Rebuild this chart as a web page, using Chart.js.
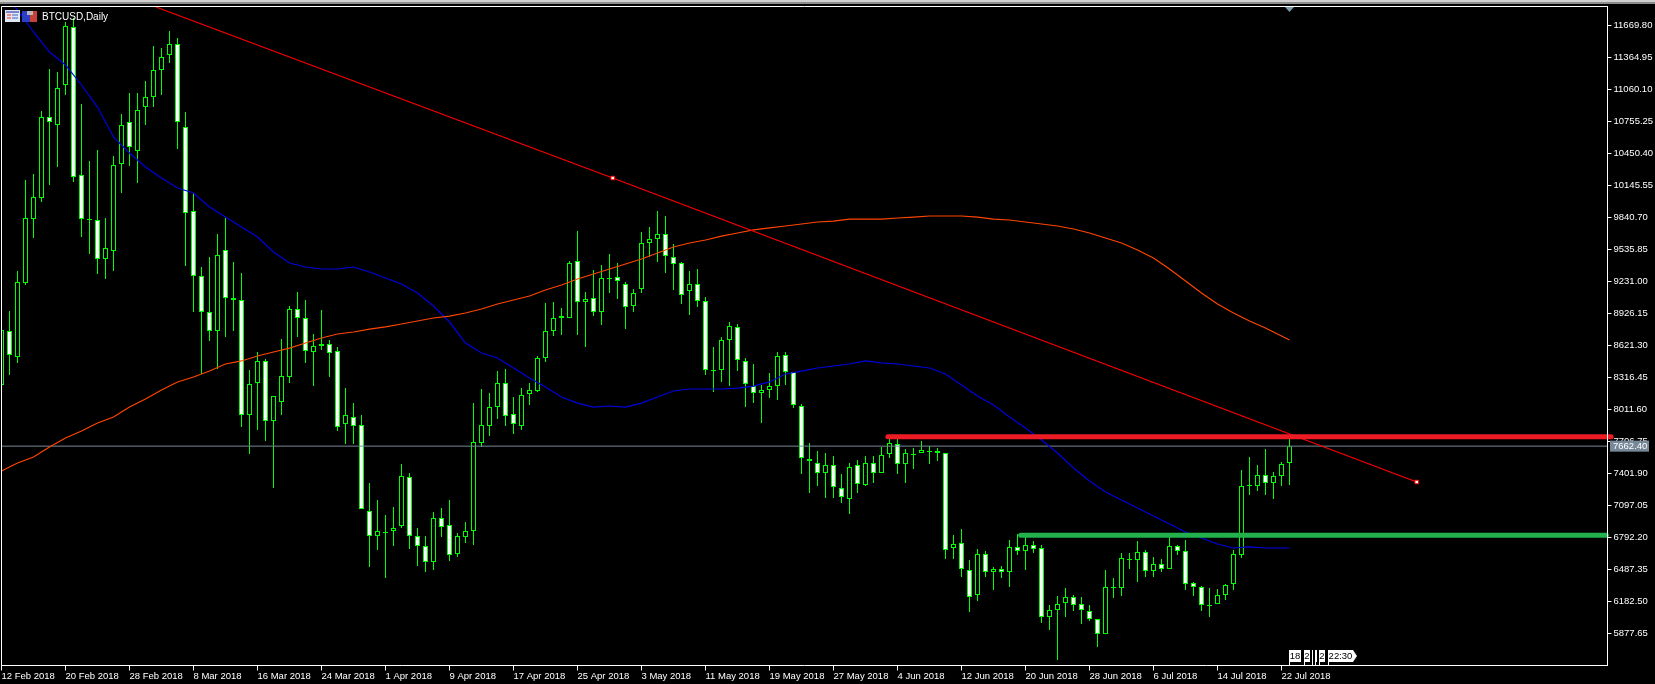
<!DOCTYPE html>
<html>
<head>
<meta charset="utf-8">
<title>BTCUSD,Daily</title>
<style>html,body{margin:0;padding:0;background:#000;overflow:hidden}canvas{display:block}</style>
<script src="https://cdn.jsdelivr.net/npm/chart.js@4"></script>
</head>
<body>
<canvas id="c" width="1655" height="684" style="width:1655px;height:684px"></canvas>
<script>
const symbolTitle = "BTCUSD,Daily";
const dateLabels = ["12 Feb 2018","20 Feb 2018","28 Feb 2018","8 Mar 2018","16 Mar 2018","24 Mar 2018","1 Apr 2018","9 Apr 2018","17 Apr 2018","25 Apr 2018","3 May 2018","11 May 2018","19 May 2018","27 May 2018","4 Jun 2018","12 Jun 2018","20 Jun 2018","28 Jun 2018","6 Jul 2018","14 Jul 2018","22 Jul 2018"];
const priceTicks = [11669.80,11364.95,11060.10,10755.25,10450.40,10145.55,9840.70,9535.85,9231.00,8926.15,8621.30,8316.45,8011.60,7706.75,7401.90,7097.05,6792.20,6487.35,6182.50,5877.65];

const opens = [8245,8759,8512,9217,9826,10026,10798,10722,11103,11655,
10245,9817,9817,9445,9522,10350,10750,10474,10893,10989,
11246,11389,11494,10703,9903,9283,8940,8759,9531,9074,
9055,7959,8264,8474,7902,8083,8321,8969,8883,8559,
8636,8636,8569,7873,7940,7864,7045,6806,6835,6854,
6902,7369,6806,6711,6559,6978,6911,6635,6797,6854,
7692,7854,8035,8264,7969,7854,8159,8188,8502,8759,
8883,8883,9426,9036,9074,8940,9255,9274,9207,8998,
9160,9598,9636,9683,9464,9407,9140,9207,9045,8378,
8388,8674,8798,8474,8235,8169,8197,8235,8531,8369,
8045,7540,7502,7407,7483,7264,7159,7483,7292,7502,
7407,7588,7683,7492,7578,7597,7607,7616,7597,6692,
6740,6483,6244,6635,6463,6492,6463,6702,6664,6721,
6692,6035,6102,6168,6225,6159,6092,6016,5873,6311,
6311,6578,6578,6654,6473,6540,6492,6711,6664,6359,
6321,6140,6159,6244,6349,6625,7283,7283,7387,7311,
7378,7502];
const highs = [8769,8950,9331,10198,10255,10855,11255,11227,11703,11741,
10922,10379,10484,9836,10427,10827,11027,11027,11141,11474,
11455,11617,11551,10846,10074,9369,9464,9683,9836,9417,
9312,8388,8559,8493,8140,8683,8998,9131,9055,8731,
8960,8674,8607,8216,8074,7959,7311,7149,7006,7083,
7492,7407,6883,6806,7035,7073,7149,6835,6940,8074,
8207,8169,8378,8397,8131,8216,8264,8521,9026,9036,
8978,9426,9712,9131,9341,9388,9493,9407,9226,9160,
9703,9750,9903,9855,9588,9417,9331,9350,9083,8607,
8702,8845,8826,8502,8445,8245,8359,8559,8559,8369,
8064,7692,7616,7597,7568,7397,7502,7530,7568,7568,
7654,7759,7731,7635,7645,7711,7664,7645,7597,6816,
6873,6578,6683,6664,6511,6521,6768,6825,6816,6759,
6721,6149,6235,6311,6244,6225,6149,6016,6483,6406,
6645,6645,6759,6673,6606,6587,6797,6721,6768,6368,
6330,6311,6302,6349,6673,7435,7559,7483,7635,7416,
7511,7759];
const lows = [8245,8340,8455,9198,9645,9988,10150,10322,11008,10179,
9655,9493,9302,9255,9331,10074,10331,10169,10722,10893,
11008,11313,10493,9379,8940,8350,8664,8397,8702,8759,
7845,7588,7816,7711,7264,7959,8264,8702,8455,8235,
8578,8321,7807,7683,7683,7064,6511,6673,6406,6711,
6883,6683,6521,6463,6483,6797,6568,6606,6740,6721,
7654,7759,7921,7854,7778,7816,8054,8178,8464,8712,
8721,8883,8721,8607,8902,8817,9121,9064,8778,8940,
9121,9464,9417,9312,9150,9017,8912,8988,8340,8178,
8274,8235,8378,8035,8074,7883,8121,8102,8245,8026,
7397,7216,7283,7168,7168,7121,7016,7216,7283,7311,
7407,7550,7397,7311,7445,7597,7492,7521,6587,6587,
6416,6082,6187,6416,6292,6406,6321,6625,6483,6645,
5978,5911,5625,6035,6092,5968,5997,5749,5873,6216,
6235,6492,6368,6416,6416,6463,6492,6625,6292,6235,
6092,6035,6159,6197,6292,6597,7197,7235,7197,7159,
7283,7292];
const closes = [8769,8531,9226,9836,10036,10798,10750,11074,11665,10226,
9826,9826,9445,9550,10341,10722,10512,10865,10989,11246,
11370,11494,10750,9883,9283,8940,8759,9484,9074,9055,
7959,8255,8474,7902,8140,8331,8969,8883,8569,8617,
8617,8550,7845,7959,7854,7064,6806,6854,6844,6883,
7378,6806,6711,6559,6978,6892,6625,6806,6854,7702,
7864,8035,8264,7950,7873,8150,8197,8502,8759,8883,
8902,9407,9036,9064,8940,9264,9264,9236,8988,9121,
9598,9636,9683,9474,9398,9102,9207,9045,8388,8388,
8674,8807,8483,8255,8169,8197,8235,8521,8369,8054,
7550,7521,7407,7483,7273,7178,7464,7302,7502,7407,
7578,7692,7492,7597,7588,7626,7616,7597,6673,6730,
6492,6225,6635,6463,6492,6463,6702,6664,6721,6683,
6035,6102,6159,6225,6149,6102,6016,5873,6321,6321,
6597,6587,6654,6473,6540,6492,6711,6664,6349,6321,
6149,6149,6244,6340,6635,7283,7292,7387,7311,7378,
7492,7662.4];

const maBars = [0,2,4,6,8,10,12,14,16,18,20,22,24,26,28,30,32,34,36,38,40,42,44,46,48,50,52,54,56,58,60,62,64,66,68,70,72,74,76,78,80,82,84,86,88,90,92,94,96,98,100,102,104,106,108,110,112,114,116,118,120,122,124,126,128,130,132,134,136,138,140,142,144,146,148,150,152,154,156,158,160,161];
const fastMA = [12018,11817,11608,11417,11294,11103,10893,10608,10455,10322,10217,10122,10074,9941,9845,9750,9655,9512,9407,9369,9350,9350,9369,9321,9264,9207,9121,8998,8845,8645,8550,8502,8407,8312,8226,8131,8073,8035,8045,8035,8073,8131,8188,8207,8207,8207,8216,8235,8274,8350,8378,8407,8426,8445,8474,8455,8445,8426,8407,8350,8245,8140,8054,7940,7835,7721,7597,7454,7330,7226,7149,7073,6997,6921,6845,6787,6730,6692,6702,6692,6692,6692];
const slowMA = [7426,7502,7559,7654,7740,7807,7883,7940,8035,8112,8197,8274,8321,8378,8445,8474,8521,8559,8597,8645,8693,8731,8750,8778,8798,8826,8855,8883,8902,8931,8969,9017,9055,9093,9150,9198,9255,9302,9350,9398,9445,9503,9560,9598,9626,9664,9693,9722,9741,9760,9779,9798,9807,9826,9826,9826,9836,9845,9855,9855,9855,9845,9826,9817,9798,9779,9760,9731,9693,9645,9598,9531,9455,9350,9236,9121,9017,8931,8855,8788,8712,8674];

const currentPrice = 7662.40;
const trendBars = [19.3, 76.4, 176.9];
const trendPrices = [11846, 10217, 7321];
const resistanceBars = [110.8, 201.2];
const resistancePrice = 7752.4;
const supportBars = [127.4, 200.6];
const supportPrice = 6813.1;
const timeMarks = ["18","2","","","2","22:30"];

const FONT = '9.5px "Liberation Sans"';
const X_MAX = 200.75;
const Y_MAX = 11850.81, Y_MIN = 5572.78;

const noPad = s => { s.paddingLeft = 0; s.paddingRight = 0; s.paddingTop = 0; s.paddingBottom = 0; };

const decor = {
  id: 'decor',
  afterDraw(chart) {
    const ctx = chart.ctx, a = chart.chartArea;
    ctx.save();
    ctx.fillStyle = '#d0d0d0'; ctx.fillRect(0, 0, 1655, 2);
    ctx.fillStyle = '#8c8c8c'; ctx.fillRect(0, 2, 1655, 2);
    ctx.strokeStyle = '#fff'; ctx.lineWidth = 1;
    ctx.beginPath();
    ctx.moveTo(a.left, a.bottom); ctx.lineTo(a.left, a.top); ctx.lineTo(a.right, a.top); ctx.lineTo(a.right, a.bottom);
    ctx.stroke();
    // window icons
    ctx.fillStyle = '#dfe6f5'; ctx.fillRect(5, 10, 15, 12);
    ctx.fillStyle = '#7f86c8'; ctx.fillRect(6, 11, 13, 2);
    ctx.fillStyle = '#f08a80'; ctx.fillRect(7, 14, 4, 2); ctx.fillRect(7, 17, 4, 2);
    ctx.fillStyle = '#8fa4dd'; ctx.fillRect(12, 14, 6, 2); ctx.fillRect(12, 17, 6, 2);
    ctx.fillStyle = '#2a3fc4'; ctx.fillRect(22, 11, 8, 11);
    ctx.fillStyle = '#c8403a'; ctx.fillRect(30, 11, 7, 11);
    ctx.fillStyle = '#b8b8b8'; ctx.fillRect(27, 11, 6, 4);
    // title
    ctx.font = '10px "Liberation Sans"'; ctx.fillStyle = '#fff'; ctx.textAlign = 'left'; ctx.textBaseline = 'middle';
    ctx.fillText(symbolTitle, 42, 17);
    ctx.font = FONT;
    // shift marker
    ctx.fillStyle = '#7a99ac';
    ctx.beginPath(); ctx.moveTo(1285, 7); ctx.lineTo(1294, 7); ctx.lineTo(1289.5, 12); ctx.closePath(); ctx.fill();
    // current price tag
    const py = chart.scales.y.getPixelForValue(currentPrice);
    ctx.fillStyle = '#778899'; ctx.fillRect(1610, py - 5.5, 39, 11);
    ctx.fillStyle = '#fff'; ctx.fillText(currentPrice.toFixed(2), 1613, py + 0.5);
    // time marks on the bottom edge
    const slots = [[1289,12],[1304,6],[1312,1],[1315,2],[1319,6],[1328,25]];
    ctx.textAlign = 'center';
    slots.forEach((s, i) => {
      ctx.fillStyle = '#fff';
      ctx.fillRect(s[0], 650, s[1], 12);
      ctx.fillRect(s[0], 662, 1, 3);
      if (i === 5) {
        ctx.beginPath(); ctx.moveTo(1353, 650); ctx.lineTo(1357, 656); ctx.lineTo(1353, 662); ctx.closePath(); ctx.fill();
      }
      if (timeMarks[i]) {
        ctx.fillStyle = '#000';
        ctx.fillText(timeMarks[i], s[0] + s[1] / 2, 656.5);
      }
    });
    ctx.restore();
  }
};

const bars = opens.map((_, i) => i);
const hLine = (xs, p, color, w, order) => ({
  type: 'line', order, data: xs.map(x => ({x, y: p})), borderColor: color, borderWidth: w,
  pointRadius: 0, clip: false, borderCapStyle: 'round'
});

new Chart(document.getElementById('c'), {
  type: 'bar',
  plugins: [decor],
  data: {
    datasets: [
      { label: 'wick', order: 9, grouped: false, barThickness: 1, inflateAmount: 0, borderWidth: 0,
        backgroundColor: '#00ff00', data: bars.map(i => ({x: i, y: [lows[i], highs[i]]})) },
      { label: 'body', order: 8, grouped: false, barThickness: 5, inflateAmount: 0, borderWidth: 1, borderSkipped: false,
        borderColor: '#00ff00',
        backgroundColor: bars.map(i => closes[i] < opens[i] ? '#ffffff' : '#000000'),
        data: bars.map(i => ({x: i, y: [opens[i], closes[i]]})) },
      { type: 'line', label: 'bid', order: 7, borderColor: '#778899', borderWidth: 1, pointRadius: 0,
        data: [{x: 0, y: currentPrice}, {x: X_MAX, y: currentPrice}] },
      { type: 'line', label: 'fast', order: 6, borderColor: '#0000e0', borderWidth: 1.2, pointRadius: 0,
        data: maBars.map((x, i) => ({x, y: fastMA[i]})) },
      { type: 'line', label: 'slow', order: 5, borderColor: '#ff4500', borderWidth: 1.2, pointRadius: 0,
        data: maBars.map((x, i) => ({x, y: slowMA[i]})) },
      { type: 'line', label: 'trend', order: 4, borderColor: '#ff0000', borderWidth: 1.2,
        pointRadius: [0, 2.5, 2.5], pointStyle: 'rect', pointBackgroundColor: '#ffffff', pointBorderColor: '#ff0000', pointBorderWidth: 1,
        data: trendBars.map((x, i) => ({x, y: trendPrices[i]})) },
      hLine(resistanceBars, resistancePrice, '#ed1c24', 5, 3),
      hLine(supportBars, supportPrice, '#22b14c', 5, 2)
    ]
  },
  options: {
    responsive: false,
    animation: false,
    devicePixelRatio: 1,
    layout: { autoPadding: false, padding: { left: 1.5, top: 6.5, right: 0, bottom: 0 } },
    plugins: { legend: { display: false }, tooltip: { enabled: false }, title: { display: false } },
    scales: {
      x: {
        type: 'linear', offset: false, min: 0, max: X_MAX,
        afterBuildTicks(s) { s.ticks = dateLabels.map((_, i) => ({value: i * 8})); },
        afterFit(s) { s.height = 18.5; noPad(s); },
        grid: { offset: false, drawOnChartArea: false, color: '#fff', tickColor: '#fff', tickLength: 5 },
        border: { color: '#fff', width: 1 },
        ticks: { autoSkip: false, maxRotation: 0, minRotation: 0, align: 'start', padding: 0, color: '#fff',
          font: { family: 'Liberation Sans', size: 9.5 },
          callback: v => dateLabels[v / 8] }
      },
      y: {
        position: 'right', min: Y_MIN, max: Y_MAX,
        afterBuildTicks(s) { s.ticks = priceTicks.map(value => ({value})); },
        afterFit(s) { s.width = 47.5; noPad(s); },
        grid: { drawOnChartArea: false, color: '#fff', tickColor: '#fff', tickLength: 4 },
        border: { color: '#fff', width: 1 },
        ticks: { autoSkip: false, padding: 2, color: '#fff',
          font: { family: 'Liberation Sans', size: 9.5 },
          callback: v => v.toFixed(2) }
      }
    }
  }
});
</script>
</body>
</html>
